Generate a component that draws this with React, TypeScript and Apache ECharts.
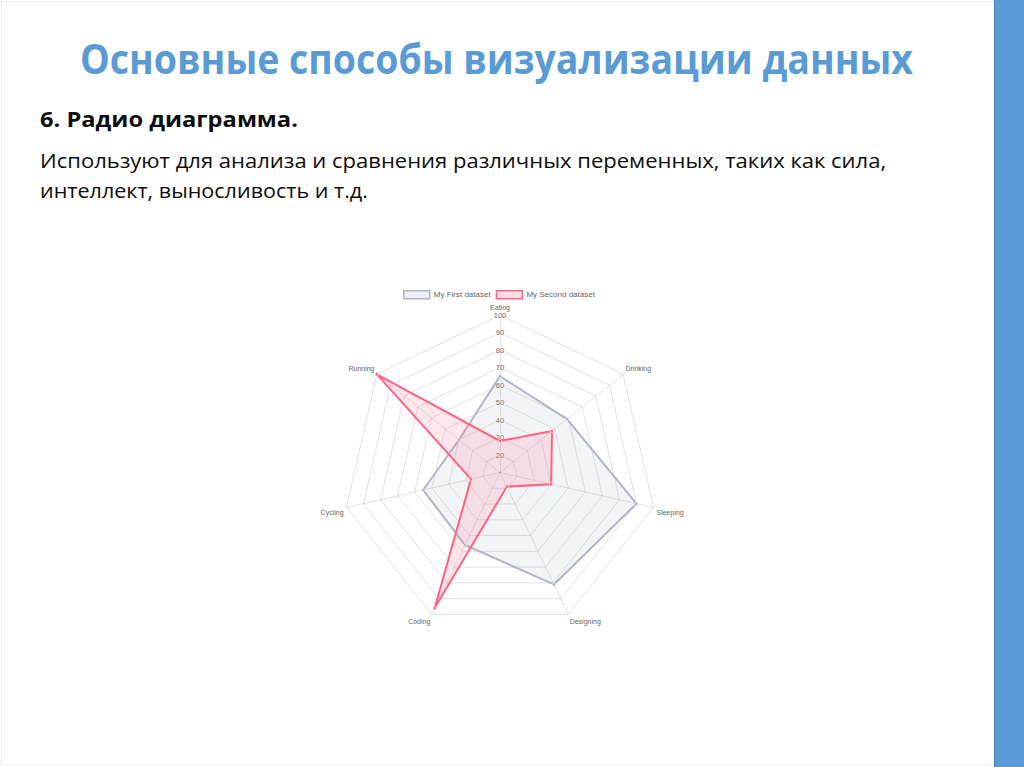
import { useEffect, useRef } from 'react';
import * as echarts from 'echarts';

// подписи и значения (порядок как в исходном графике, по часовой стрелке от верха)
const labels = ['Eating', 'Drinking', 'Sleeping', 'Designing', 'Coding', 'Cycling', 'Running'];
const firstData = [65, 59, 90, 81, 56, 55, 40];
const secondData = [28, 48, 40, 19, 96, 27, 100];
const seriesNames = ['My First dataset', 'My Second dataset'];
const scaleMin = 10;
const scaleMax = 100;

const title = 'Основные способы визуализации данных';
const subtitle = '6. Радио диаграмма.';
const bodyLines = [
  'Используют для анализа и сравнения различных переменных, таких как сила,',
  'интеллект, выносливость и т.д.',
];

const FONT = '"Open Sans", "Noto Sans", sans-serif';

// ECharts рисует радар против часовой стрелки — переставляем оси
const order = labels.map((_, i) => (i === 0 ? 0 : labels.length - i));

// подписи в верхней половине круга ставим над точкой, в нижней — под ней (как в Chart.js)
const upperLabels = ['Drinking', 'Running'];

// ширина текста, чтобы сжать его по горизонтали как Calibri
const measure = (text: string, font: string) => {
  const ctx = document.createElement('canvas').getContext('2d');
  if (!ctx) return 1;
  ctx.font = font;
  return ctx.measureText(text).width;
};

const slideText = (
  text: string,
  x: number,
  y: number,
  targetWidth: number,
  size: number,
  weight: string,
  fill: string
) => {
  const w = measure(text, `${weight} ${size}px ${FONT}`);
  return {
    type: 'text',
    x,
    y,
    scaleX: targetWidth / w,
    style: {
      text,
      fill,
      fontSize: size,
      fontWeight: weight,
      fontFamily: FONT,
      align: 'left',
      verticalAlign: 'middle',
    },
  };
};

export default function App() {
  const chartRef = useRef<HTMLDivElement>(null);

  useEffect(() => {
    if (!chartRef.current) return;
    const chart = echarts.init(chartRef.current, undefined, { renderer: 'svg' });

    const grey = 'rgba(179,181,198,1)';
    const pink = 'rgba(255,99,132,1)';

    const option: any = {
      animation: false,
      backgroundColor: '#ffffff',
      graphic: [
        {
          type: 'rect',
          shape: { x: 1.5, y: 1.5, width: 1021, height: 763 },
          style: { fill: 'none', stroke: '#ececec', lineWidth: 1 },
        },
        {
          type: 'rect',
          shape: { x: 994, y: 0, width: 30, height: 767 },
          style: { fill: '#5b9bd5' },
        },
        {
          type: 'line',
          shape: { x1: 994.5, y1: 0, x2: 994.5, y2: 767 },
          style: { stroke: '#4a80b8', lineWidth: 1 },
        },
        slideText(title, 80, 57.5, 833, 42, 'bold', '#5b9bd5'),
        slideText(subtitle, 40, 119.5, 258, 21, 'bold', '#0d0d0d'),
        slideText(bodyLines[0], 40, 160, 847, 20, 'normal', '#0d0d0d'),
        slideText(bodyLines[1], 40, 190, 328, 20, 'normal', '#0d0d0d'),
      ],
      legend: {
        top: 290,
        left: 403,
        padding: 0,
        icon: 'rect',
        itemWidth: 26,
        itemHeight: 8,
        itemGap: 5,
        textStyle: { color: '#666', fontSize: 8, fontFamily: 'Liberation Sans', padding: [0, 0, 0, -1] },
        data: [
          {
            name: seriesNames[0],
            itemStyle: { color: 'rgba(179,181,198,0.22)', borderColor: grey, borderWidth: 1.5 },
          },
          {
            name: seriesNames[1],
            itemStyle: { color: 'rgba(255,99,132,0.22)', borderColor: pink, borderWidth: 1.5 },
          },
        ],
      },
      radar: {
        center: [500, 472.5],
        radius: 157.5,
        shape: 'polygon',
        startAngle: 90,
        splitNumber: 9,
        nameGap: 3,
        indicator: order.map((i, k) => ({
          name: labels[i],
          min: scaleMin,
          max: scaleMax,
          color: '#666',
          ...(k === 0
            ? {
                axisLabel: {
                  show: true,
                  showMinLabel: false,
                  align: 'center',
                  verticalAlign: 'middle',
                  margin: 0,
                  color: '#666',
                  fontSize: 7.5,
                  fontFamily: 'Liberation Sans',
                  backgroundColor: 'rgba(255,255,255,0.8)',
                  padding: [0, 1],
                },
              }
            : {}),
        })),
        axisName: {
          color: '#666',
          fontSize: 7,
          lineHeight: 8,
          fontFamily: 'Liberation Sans',
          formatter: (name: string) => {
            if (name === labels[0]) return name;
            return upperLabels.includes(name) ? name + '\n ' : ' \n' + name;
          },
        },
        splitLine: { lineStyle: { color: 'rgba(0,0,0,0.12)', width: 1 } },
        splitArea: { show: false },
        axisLine: { lineStyle: { color: 'rgba(0,0,0,0.12)', width: 1 } },
        axisLabel: { show: false },
        axisTick: { show: false },
      },
      series: [
        {
          type: 'radar',
          symbol: 'circle',
          symbolSize: 3.5,
          data: [
            {
              name: seriesNames[0],
              value: order.map((i) => firstData[i]),
              lineStyle: { color: grey, width: 2 },
              areaStyle: { color: 'rgba(179,181,198,0.22)' },
              itemStyle: { color: grey, borderColor: '#fff', borderWidth: 0.6 },
            },
            {
              name: seriesNames[1],
              value: order.map((i) => secondData[i]),
              lineStyle: { color: pink, width: 2 },
              areaStyle: { color: 'rgba(255,99,132,0.22)' },
              itemStyle: { color: pink, borderColor: '#fff', borderWidth: 0.6 },
            },
          ],
        },
      ],
    };

    chart.setOption(option);
    return () => {
      chart.dispose();
    };
  }, []);

  return (
    <div
      ref={chartRef}
      style={{ position: 'absolute', left: 0, top: 0, width: 1024, height: 767 }}
    />
  );
}
